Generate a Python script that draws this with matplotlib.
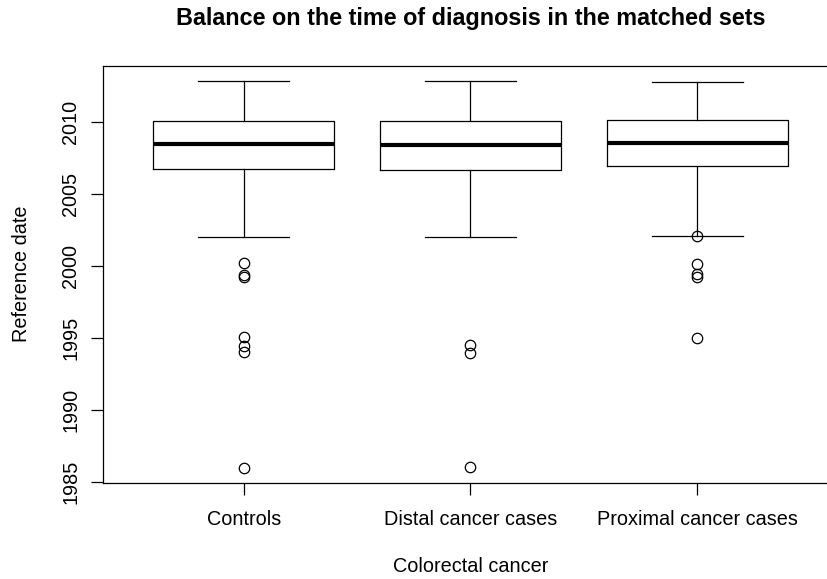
#! /usr/bin/env python3

import matplotlib
matplotlib.use("Agg")
import matplotlib.pyplot as plt

# Balance on the time of diagnosis: boxplot summaries.
groups = ["Controls", "Distal cancer cases", "Proximal cancer cases"]
whisker_low = [2002.0, 2002.0, 2002.1]
q1 = [2006.75, 2006.68, 2006.96]
median = [2008.47, 2008.42, 2008.58]
q3 = [2010.07, 2010.07, 2010.16]
whisker_high = [2012.9, 2012.9, 2012.8]
outliers = [
    [2000.19, 1999.38, 1999.26, 1995.04, 1994.47, 1994.0, 1985.97],
    [1994.5, 1993.96, 1986.0],
    [2002.1, 2000.14, 1999.43, 1999.26, 1995.0],
]

plt.rcParams["font.family"] = ["Liberation Sans", "DejaVu Sans"]

fig = plt.figure(figsize=(8.28, 5.79), dpi=100)
# the plot region runs past the right edge of the image, as in the original
ax = fig.add_axes([103 / 828, 1 - 482.7 / 579, (838 - 103) / 828, (482.7 - 65.7) / 579])

stats = []
for i, g in enumerate(groups):
    stats.append(dict(label=g, whislo=whisker_low[i], q1=q1[i], med=median[i],
                      q3=q3[i], whishi=whisker_high[i], fliers=outliers[i]))

ax.bxp(stats, positions=[1, 2, 3], widths=0.8, showfliers=True,
       boxprops=dict(color="black", linewidth=0.9),
       whiskerprops=dict(color="black", linewidth=0.9, linestyle="-"),
       capprops=dict(color="black", linewidth=0.9),
       capwidths=0.4,
       medianprops=dict(color="black", linewidth=3.0),
       flierprops=dict(marker="o", markersize=7.5, markerfacecolor="none",
                       markeredgecolor="black", markeredgewidth=0.9))

ax.set_xlim(0.38, 3.62)
ax.set_ylim(1984.93, 2013.94)
ax.set_yticks([1985, 1990, 1995, 2000, 2005, 2010])
ax.set_yticklabels(["1985", "1990", "1995", "2000", "2005", "2010"],
                   rotation=90, va="center")
ax.set_xticks([1, 2, 3])
ax.set_xticklabels(groups)
ax.tick_params(axis="both", labelsize=14.3, length=8.5, width=0.9, color="black")
ax.tick_params(axis="y", pad=8)
ax.tick_params(axis="x", pad=11)
for s in ax.spines.values():
    s.set_linewidth(0.9)
ax.spines["right"].set_visible(False)

fig.text(470.5 / 828, 1 - 18 / 579, "Balance on the time of diagnosis in the matched sets",
         ha="center", va="center", fontsize=16.8, fontweight="bold")
fig.text(470.5 / 828, 1 - 567 / 579, "Colorectal cancer", ha="center", va="center",
         fontsize=14.3)
fig.text(22 / 828, 1 - 274 / 579, "Reference date", ha="center", va="center",
         rotation=90, fontsize=14.3)

fig.savefig("out.png", dpi=100)
